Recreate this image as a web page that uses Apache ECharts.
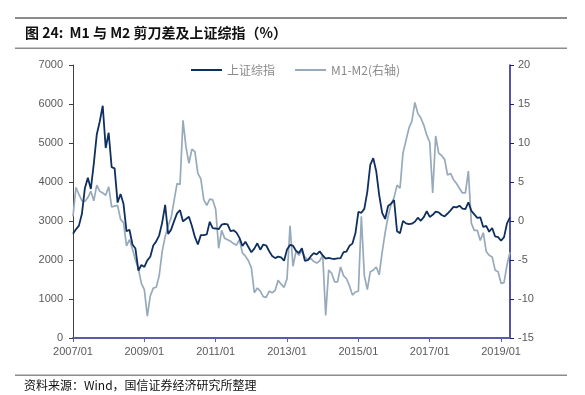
<!DOCTYPE html>
<html>
<head>
<meta charset="utf-8">
<script src="https://cdn.jsdelivr.net/npm/echarts@6/dist/echarts.min.js"></script>
<style>
html,body{margin:0;padding:0;background:#fff;}
#chart{width:585px;height:395px;}
</style>
</head>
<body>
<div id="chart"></div>
<script>
// Month labels (first point labelled 2007/01), 148 monthly points
const startYear = 2007;
const nPoints = 148;
const categories = [];
for (let i = 0; i < nPoints; i++) {
  const y = startYear + Math.floor(i / 12);
  const m = (i % 12) + 1;
  categories.push(y + '/' + (m < 10 ? '0' + m : m));
}

// 上证综指 monthly close
const shIndex = [
  2675,
  2786, 2881, 3184, 3841, 4110, 3821, 4471, 5219, 5552, 5955, 4872, 5262,
  4383, 4349, 3473, 3693, 3433, 2736, 2776, 2397, 2294, 1729, 1871, 1821,
  1991, 2083, 2373, 2478, 2633, 2959, 3412, 2668, 2779, 2996, 3195, 3277,
  2989, 3052, 3109, 2871, 2592, 2398, 2638, 2639, 2656, 2979, 2820, 2808,
  2791, 2905, 2928, 2912, 2743, 2762, 2702, 2567, 2359, 2468, 2333, 2199,
  2293, 2428, 2263, 2396, 2372, 2225, 2104, 2048, 2086, 2069, 1980, 2269,
  2385, 2366, 2237, 2178, 2301, 1979, 1994, 2098, 2175, 2142, 2221, 2116,
  2033, 2056, 2033, 2026, 2039, 2048, 2202, 2217, 2364, 2420, 2683, 3235,
  3210, 3310, 3748, 4442, 4612, 4277, 3664, 3206, 3053, 3383, 3445, 3539,
  2738, 2688, 3004, 2938, 2917, 2930, 2979, 3085, 3005, 3100, 3250, 3104,
  3159, 3242, 3223, 3155, 3117, 3192, 3273, 3361, 3349, 3393, 3317, 3307,
  3481, 3259, 3169, 3082, 3095, 2847, 2876, 2725, 2821, 2603, 2588, 2494,
  2585, 2941, 3091
];

// M1-M2 scissors gap (%), right axis
const m1m2 = [
  0.6,
  4.3, 3.4, 2.6, 2.5, 3.0, 3.8, 2.6, 4.6, 3.8, 3.6, 3.3, 4.4,
  1.8, 1.9, 2.0, 0.2, -0.2, -3.2, -2.4, -3.6, -5.0, -6.1, -8.0, -8.8,
  -12.2, -9.6, -8.6, -8.5, -7.0, -3.9, -2.0, -0.6, 0.4, 2.6, 4.8, 4.7,
  12.9, 9.5, 7.4, 9.2, 8.9, 6.1, 5.4, 2.7, 2.0, 2.8, 2.7, 1.5,
  -3.5, -1.2, -2.2, -2.4, -2.6, -2.9, -3.1, -2.4, -4.1, -4.5, -5.1, -6.0,
  -9.2, -8.6, -9.0, -9.7, -9.8, -9.0, -9.2, -8.9, -7.6, -8.1, -8.5, -7.4,
  -0.6, -5.8, -3.9, -4.4, -3.8, -4.6, -5.0, -4.8, -5.2, -5.4, -5.1, -4.4,
  -12.1, -6.3, -6.7, -7.8, -7.8, -5.9, -7.0, -7.4, -8.3, -9.5, -9.1, -9.0,
  0.6, -7.0, -8.8, -6.5, -6.3, -5.9, -6.9, -4.0, -1.5, 0.6, 2.1, 3.0,
  4.6, 4.2, 8.7, 10.3, 11.9, 12.8, 15.2, 13.8, 13.2, 12.3, 11.0, 10.1,
  3.6, 10.9, 8.7, 8.4, 7.9, 5.9, 6.1, 5.3, 4.8, 4.2, 3.6, 3.6,
  6.4, -0.3, -1.2, -1.2, -2.5, -1.5, -3.9, -4.4, -4.6, -6.3, -6.5, -8.0,
  -7.9, -5.6, -4.0
];

const leftTicks = { min: 0, max: 7000, interval: 1000 };
const rightTicks = { min: -15, max: 20, interval: 5 };

const navy = '#0f2f5f';
const grayBlue = '#97aabb';
const labelColor = '#595959';

const chart = echarts.init(document.getElementById('chart'));
chart.setOption({
  animation: false,
  backgroundColor: '#ffffff',
  grid: { left: 73, right: 75, top: 65, bottom: 57, containLabel: false },
  legend: {
    top: 59,
    left: 186,
    itemWidth: 31,
    itemHeight: 2,
    itemGap: 20,
    icon: 'rect',
    textStyle: { color: '#8a8a8a', fontSize: 12, fontFamily: 'Noto Sans CJK SC' },
    data: ['上证综指', 'M1-M2(右轴)']
  },
  xAxis: {
    type: 'category',
    data: categories,
    boundaryGap: false,
    axisLine: { lineStyle: { color: '#5b5bab', width: 2 } },
    axisTick: { show: true, interval: 23, length: 4, lineStyle: { color: '#5b5bab' } },
    axisLabel: { interval: 23, color: labelColor, fontSize: 11, fontFamily: 'Liberation Sans', margin: 8 },
    splitLine: { show: false }
  },
  yAxis: [
    {
      type: 'value',
      min: leftTicks.min, max: leftTicks.max, interval: leftTicks.interval,
      axisLine: { show: true, lineStyle: { color: '#404040', width: 1 } },
      axisTick: { show: true, length: 4, lineStyle: { color: '#404040' } },
      axisLabel: { color: labelColor, fontSize: 11, fontFamily: 'Liberation Sans', margin: 10,
        formatter: function (v) { return String(v); } },
      splitLine: { show: false }
    },
    {
      type: 'value',
      position: 'right',
      min: rightTicks.min, max: rightTicks.max, interval: rightTicks.interval,
      axisLine: { show: true, lineStyle: { color: '#1c1c8a', width: 1.5 } },
      axisTick: { show: true, length: 4, lineStyle: { color: '#1c1c8a' } },
      axisLabel: { color: labelColor, fontSize: 11, fontFamily: 'Liberation Sans', margin: 8,
        formatter: function (v) { return String(v); } },
      splitLine: { show: false }
    }
  ],
  series: [
    {
      name: 'M1-M2(右轴)',
      type: 'line',
      yAxisIndex: 1,
      data: m1m2,
      showSymbol: false,
      symbol: 'none',
      lineStyle: { color: grayBlue, width: 1.7 },
      itemStyle: { color: grayBlue },
      z: 2
    },
    {
      name: '上证综指',
      type: 'line',
      yAxisIndex: 0,
      data: shIndex,
      showSymbol: false,
      symbol: 'none',
      lineStyle: { color: navy, width: 1.8 },
      itemStyle: { color: navy },
      z: 3
    }
  ],
  graphic: [
    { type: 'rect', shape: { x: 15, y: 17, width: 552, height: 2 }, style: { fill: '#8c8c8c' } },
    { type: 'rect', shape: { x: 15, y: 47.5, width: 552, height: 1.5 }, style: { fill: '#8c8c8c' } },
    { type: 'text', left: 25, top: 26, style: { text: '图 24:  M1 与 M2 剪刀差及上证综指（%）', fill: '#111', font: 'bold 14px "Noto Sans CJK SC", "Liberation Sans"' } },
    { type: 'rect', shape: { x: 15, y: 374.5, width: 552, height: 1.5 }, style: { fill: '#8c8c8c' } },
    { type: 'text', left: 24, top: 379, style: { text: '资料来源：Wind，国信证券经济研究所整理', fill: '#111', font: '12px "Noto Sans CJK SC", "Liberation Sans"' } }
  ]
});
</script>
</body>
</html>
